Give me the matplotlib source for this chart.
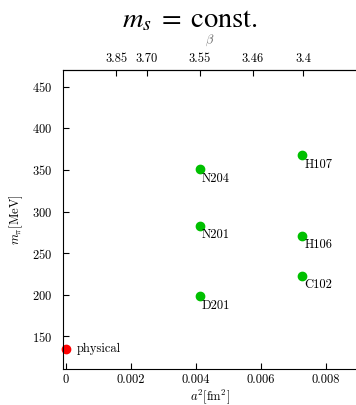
import matplotlib
matplotlib.use("Agg")
import matplotlib.pyplot as plt

plt.rcParams['font.family'] = 'serif'
plt.rcParams['font.serif'] = ['cmr10']
plt.rcParams['mathtext.fontset'] = 'cm'
plt.rcParams['axes.formatter.use_mathtext'] = True

# data
ens_names = ["N204", "N201", "D201", "H107", "H106", "C102"]
ens_a2 = [0.00412, 0.00412, 0.00412, 0.00727, 0.00727, 0.00727]
ens_mpi = [351, 283, 198, 368, 271, 223]
phys_a2 = [0.0]
phys_mpi = [135]
phys_label = "physical"
beta_labels = ["3.85", "3.70", "3.55", "3.46", "3.4"]
beta_a2 = [0.00154, 0.00249, 0.00412, 0.00575, 0.00729]
x_ticks = [0, 0.002, 0.004, 0.006, 0.008]
x_ticklabels = ["0", "0.002", "0.004", "0.006", "0.008"]
y_ticks = [150, 200, 250, 300, 350, 400, 450]

FS = 9

fig = plt.figure(figsize=(3.56, 4.05), dpi=100)
ax = fig.add_axes([0.178, 0.0877, 0.822, 0.739])
ax.set_xlim(-0.00008, 0.00892)
ax.set_ylim(110, 470)

ax.plot(ens_a2, ens_mpi, 'o', color='#00c000', markersize=6, linestyle='none', clip_on=False)
for n, x, y in zip(ens_names, ens_a2, ens_mpi):
    ax.annotate(n, (x, y), xytext=(1.5, -2.5), textcoords='offset points',
                ha='left', va='top', fontsize=FS)
ax.plot(phys_a2, phys_mpi, 'o', color='#ff0000', markersize=6, linestyle='none', clip_on=False)
ax.annotate(phys_label, (phys_a2[0], phys_mpi[0]), xytext=(8, 0), textcoords='offset points',
            ha='left', va='center', fontsize=FS)

ax.set_xticks(x_ticks)
ax.set_xticklabels(x_ticklabels)
ax.set_yticks(y_ticks)
ax.tick_params(direction='in', length=4, width=0.8, labelsize=FS)
ax.tick_params(axis='x', pad=3.5)
ax.tick_params(axis='y', pad=8)
ax.spines['right'].set_visible(False)

ax.set_xlabel(r'$a^2[\mathrm{fm}^2]$', fontsize=FS, labelpad=1)
ax.set_ylabel(r'$m_\pi[\mathrm{MeV}]$', fontsize=FS, labelpad=5)

sec = ax.secondary_xaxis('top')
sec.set_xticks(beta_a2)
sec.set_xticklabels(beta_labels)
sec.tick_params(direction='in', length=4, width=0.8, labelsize=FS, pad=4)
sec.set_xlabel(r'$\beta$', fontsize=FS, color='#666666', labelpad=7)

fig.text(0.535, 0.933, r'$m_s\;=\;\mathrm{const.}$', ha='center', va='baseline',
         fontsize=20.5, math_fontfamily='stix')

fig.savefig("out.png", dpi=100)
